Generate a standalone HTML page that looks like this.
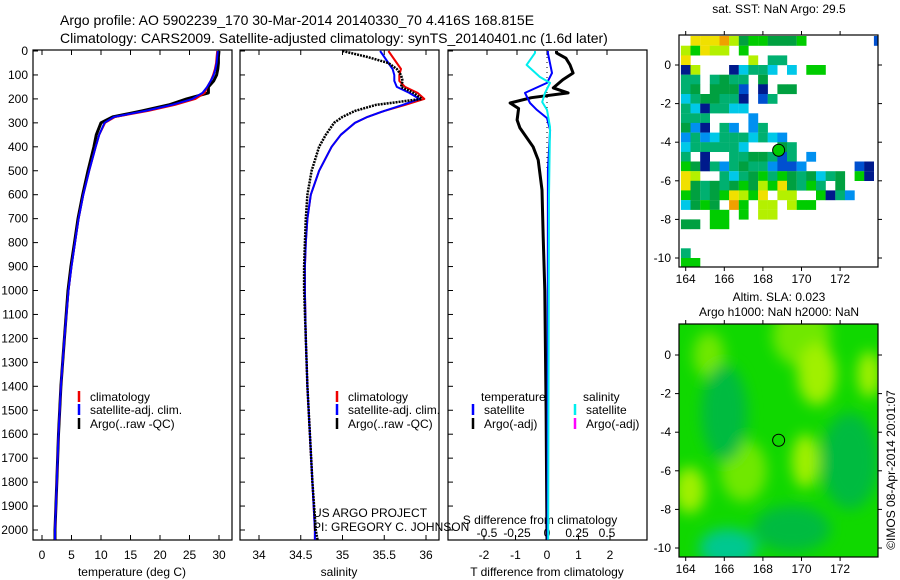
<!DOCTYPE html>
<html><head><meta charset="utf-8"><style>
body{margin:0;background:#fff;}
svg{display:block;font-family:"Liberation Sans",sans-serif;}
text{fill:#000;}
</style></head><body>
<svg id="chart" width="900" height="580" viewBox="0 0 900 580">
<defs>
<filter id="blur" x="-50%" y="-50%" width="200%" height="200%"><feGaussianBlur stdDeviation="7"/></filter>
<clipPath id="clipSla"><rect x="679" y="324" width="199" height="233"/></clipPath>
<clipPath id="clipSst"><rect x="679" y="35" width="199" height="232"/></clipPath>
</defs>
<text x="60" y="25" font-size="14">Argo profile: AO 5902239_170 30-Mar-2014 20140330_70 4.416S 168.815E</text>
<text x="60" y="43" font-size="14">Climatology: CARS2009. Satellite-adjusted climatology: synTS_20140401.nc (1.6d later)</text>
<g id="plots"></g>
<text x="779" y="13" font-size="12" text-anchor="middle">sat. SST: NaN Argo: 29.5</text>
<text x="779" y="301" font-size="12" text-anchor="middle">Altim. SLA: 0.023</text>
<text x="779" y="316" font-size="12" text-anchor="middle">Argo h1000: NaN h2000: NaN</text>
<text transform="translate(895,470) rotate(-90)" font-size="12" text-anchor="middle">©IMOS 08-Apr-2014 20:01:07</text>
</svg>
<script>
// ---- data ----
const depths = [0,25,50,75,100,125,150,175,200,225,250,275,300,350,400,500,600,700,800,900,1000,1200,1400,1600,1800,2000,2040];
const tempClim = [29.7,29.6,29.5,29.3,29.0,28.6,28.0,27.6,26.0,22.5,18.0,12.4,10.7,9.7,9.1,8.0,7.0,6.2,5.6,5.0,4.5,3.8,3.2,2.8,2.5,2.2,2.2];
const tempSat = [29.8,29.7,29.6,29.4,29.1,28.6,28.0,27.2,25.5,22.0,17.5,12.2,10.6,9.7,9.1,8.0,7.0,6.2,5.6,5.0,4.5,3.8,3.2,2.8,2.5,2.2,2.2];
const tempArgo = [30.0,29.9,29.9,29.8,29.6,29.1,28.2,28.2,24.5,21.5,17.0,12.0,10.0,9.2,8.8,7.8,6.9,6.1,5.5,4.9,4.4,3.8,3.2,2.8,2.5,2.2,2.2];
const salClim = [35.55,35.6,35.65,35.7,35.68,35.68,35.75,35.9,35.98,35.75,35.5,35.3,35.15,34.98,34.87,34.72,34.62,34.58,34.56,34.55,34.55,34.56,34.58,34.61,34.64,34.67,34.67];
const salSat = [35.45,35.5,35.55,35.6,35.62,35.62,35.65,35.8,35.92,35.72,35.5,35.3,35.15,34.98,34.87,34.72,34.62,34.58,34.56,34.55,34.55,34.56,34.58,34.61,34.64,34.67,34.67];
const salArgo = [35.0,35.3,35.55,35.65,35.7,35.72,35.7,35.85,35.95,35.4,35.15,35.0,34.9,34.8,34.72,34.63,34.58,34.56,34.55,34.54,34.54,34.56,34.58,34.61,34.64,34.68,34.7];
const diffDepthArgoT = [0,8,30,58,92,120,154,175,195,217,240,288,321,400,455,580,777,1000,1500,2040];
const diffArgoT = [0.3,0.3,0.6,0.73,0.83,0.5,0.2,0.67,-0.5,-1.17,-0.9,-0.95,-0.86,-0.44,-0.28,-0.16,-0.12,-0.07,-0.03,0];
const diffDepthSatT = [0,8,92,133,175,217,246,280,330,500,2040];
const diffSatT = [0.03,0.03,0.16,0,-0.7,-0.54,-0.32,0,0.1,0.03,0.02];
const diffDepthSatS = [0,8,58,108,133,175,213,246,317,600,2040];
const diffSatS = [-0.1,-0.1,-0.17,-0.06,0.025,-0.017,-0.04,0,0.025,0.017,0.01];
const depthTicks = [0,100,200,300,400,500,600,700,800,900,1000,1100,1200,1300,1400,1500,1600,1700,1800,1900,2000];
const tempTicks = [0,5,10,15,20,25,30];
const salTicks = [34,34.5,35,35.5,36];
const salTickLabels = ['34','34.5','35','35.5','36'];
const tdTicks = [-2,-1,0,1,2];
const sdTicks = [-0.5,-0.25,0,0.25,0.5];
const sdTickLabels = ['-0.5','-0.25','0','0.25','0.5'];
const lonTicks = [164,166,168,170,172];
const latTicks = [0,-2,-4,-6,-8,-10];
const argoLon = 168.815, argoLat = -4.416;
const sstRows = [
".888975665556.......1",
"76877 6.............",
"8......7.44.........",
"07...03443 3.66.....",
"44.4544.5...........",
"45 5551 0.55........",
"3455440 14..........",
"4304433.............",
"444....2............",
"520.42.24...........",
"24234443432.........",
"3444443...54........",
"4.0..4455414 2.......",
"6504245442112.....10",
"87..4345646545345 60",
"854545657685464 5...",
"654568768 77..6042..",
"3565.96.77.766......",
"...66.6.77..........",
"55.66...............",
"....................",
"....................",
"4...................",
"66.................."];
const sstColors = ['#001a8c','#0050d0','#0090f0','#00c8e8','#00b070','#00a040','#00cc00','#b4f000','#f0e000','#f0a000'];
const slaLon = [165.2,170,170.8,173.5,164.2,167,170.2,166,172.5,166.2,169.5];
const slaLat = [0,1,-1,-1,-7,-6,-5.5,-3,-5.5,-10,-9];
const slaRx = [0.8,1.5,1.0,0.6,0.8,1.2,0.7,1.2,1.5,1.5,2];
const slaRy = [1.2,1.6,1.6,1.2,1.2,1.6,1.4,2.5,2.5,1,1.2];
const slaLevel = [1,1,2,2,2,1,2,-1,-1,-2,-1];
const slaColors = {'2':'#a0f000','1':'#70e800','-1':'#00bb40','-2':'#00c890'};

// ---- helpers ----
const NS = 'http://www.w3.org/2000/svg';
const root = document.getElementById('plots');
function mk(tag, attrs, parent){const e=document.createElementNS(NS,tag);for(const k in attrs)e.setAttribute(k,attrs[k]);(parent||root).appendChild(e);return e;}
const yD = d => 51 + 0.2395*d;
const panels = [
 {x0:33, name:'temperature-panel', fx: v => 42 + 5.9*v},
 {x0:240, name:'salinity-panel', fx: v => 259 + 83.5*(v-34)},
 {x0:448, name:'difference-panel', fx: v => 547 + 31.5*v, fs: v => 547 + 120*v}
];
const PW = 199, PY0 = 50, PY1 = 540;

function line(xs, ds, fx, color, w, dash, name){
  let d='';
  for(let i=0;i<xs.length;i++){d += (i?'L':'M') + fx(xs[i]).toFixed(1) + ',' + yD(ds[i]).toFixed(1);}
  const p = mk('path',{d:d,fill:'none',stroke:color,'stroke-width':w,'stroke-linejoin':'round'});
  if(dash) p.setAttribute('stroke-dasharray',dash);
  
  
  return p;
}

panels.forEach((P,pi)=>{
  const g = mk('g',{});
  
  
  mk('rect',{x:P.x0,y:PY0,width:PW,height:PY1-PY0,fill:'#fff',stroke:'#000','stroke-width':1.2},g);
  depthTicks.forEach(d=>{
    mk('line',{x1:P.x0,x2:P.x0+5,y1:yD(d),y2:yD(d),stroke:'#000'},g);
    if(pi===0){
      const t = mk('text',{x:28,y:yD(d)+4,'font-size':12,'text-anchor':'end'},g);
      t.textContent = d;
      
      
    }
  });
});

tempTicks.forEach(v=>{
  const x = panels[0].fx(v);
  mk('line',{x1:x,x2:x,y1:PY1,y2:PY1-5,stroke:'#000'});
  mk('line',{x1:x,x2:x,y1:PY0,y2:PY0+5,stroke:'#000'});
  const t = mk('text',{x:x,y:559,'font-size':12,'text-anchor':'middle'}); t.textContent=v;
  
  
});
salTicks.forEach((v,i)=>{
  const x = panels[1].fx(v);
  mk('line',{x1:x,x2:x,y1:PY1,y2:PY1-5,stroke:'#000'});
  mk('line',{x1:x,x2:x,y1:PY0,y2:PY0+5,stroke:'#000'});
  const t = mk('text',{x:x,y:559,'font-size':12,'text-anchor':'middle'}); t.textContent=salTickLabels[i];
  
  
});
tdTicks.forEach(v=>{
  const x = panels[2].fx(v);
  mk('line',{x1:x,x2:x,y1:PY1,y2:PY1-5,stroke:'#000'});
  const t = mk('text',{x:x,y:559,'font-size':12,'text-anchor':'middle'}); t.textContent=v;
  
  
});
sdTicks.forEach((v,i)=>{
  const x = panels[2].fs(v);
  mk('line',{x1:x,x2:x,y1:PY0,y2:PY0+5,stroke:'#000'});
  const t = mk('text',{x:x,y:537,'font-size':12,'text-anchor':'middle'}); t.textContent=sdTickLabels[i];
  
  
});
[['temperature (deg C)',132,'temperature-axis-title'],['salinity',339,'salinity-axis-title'],['T difference from climatology',547,'t-diff-axis-title']].forEach(a=>{
  const t = mk('text',{x:a[1],y:576,'font-size':12,'text-anchor':'middle'}); t.textContent=a[0];
  
  
});
const sdt = mk('text',{x:540,y:524,'font-size':12,'text-anchor':'middle'}); sdt.textContent='S difference from climatology';



line(tempArgo, depths, panels[0].fx, '#000', 3, '', 'temp-argo-line');
line(tempClim, depths, panels[0].fx, '#e00', 2, '', 'temp-climatology-line');
line(tempSat, depths, panels[0].fx, '#00f', 2, '', 'temp-satellite-line');
line(salClim, depths, panels[1].fx, '#e00', 2, '', 'sal-climatology-line');
line(salSat, depths, panels[1].fx, '#00f', 2, '', 'sal-satellite-line');
line(salArgo, depths, panels[1].fx, '#000', 2.5, '2,1', 'sal-argo-line');
const zl = mk('line',{x1:547,x2:547,y1:52,y2:170,stroke:'#000','stroke-dasharray':'1,4'});


line(diffArgoT, diffDepthArgoT, panels[2].fx, '#000', 3, '', 't-diff-argo-line');
line(diffSatT, diffDepthSatT, panels[2].fx, '#00f', 2, '', 't-diff-satellite-line');
line(diffSatS, diffDepthSatS, panels[2].fs, '#0ee', 2, '', 's-diff-satellite-line');

function legend(x, y, color, label, name){
  const g = mk('g',{});
  
  
  mk('line',{x1:x,x2:x,y1:y-8,y2:y+3,stroke:color,'stroke-width':2.5},g);
  const t = mk('text',{x:x+11,y:y+2,'font-size':12},g); t.textContent=label;
}
[[79,'temp'],[337,'sal']].forEach(l=>{
  legend(l[0],399,'#e00','climatology',l[1]+'-legend-climatology');
  legend(l[0],412,'#00f','satellite-adj. clim.',l[1]+'-legend-satellite');
  legend(l[0],426,'#000','Argo(..raw -QC)',l[1]+'-legend-argo');
});
let lt = mk('text',{x:481,y:401,'font-size':12}); lt.textContent='temperature';
 
lt = mk('text',{x:583,y:401,'font-size':12}); lt.textContent='salinity';
 
legend(473,412,'#00f','satellite','diff-legend-t-satellite');
legend(473,426,'#000','Argo(-adj)','diff-legend-t-argo');
legend(575,412,'#0ee','satellite','diff-legend-s-satellite');
legend(575,426,'#f0f','Argo(-adj)','diff-legend-s-argo');
lt = mk('text',{x:313,y:517,'font-size':12}); lt.textContent='US ARGO PROJECT';
 
lt = mk('text',{x:313,y:531,'font-size':12}); lt.textContent='PI: GREGORY C. JOHNSON';
 

const lonX = lon => 685.7 + 19.3*(lon-164);
const sstY = lat => 65 + 19.3*(-lat);
const slaY = lat => 355 + 19.3*(-lat);

const sstG = mk('g',{'clip-path':'url(#clipSst)'});


mk('rect',{x:679,y:35,width:199,height:232,fill:'#fff'},sstG);
sstRows.forEach((row,r)=>{
  for(let c=0;c<row.length;c++){
    const ch=row[c]; if(ch<'0'||ch>'9') continue;
    const lon=163.75+0.5*c, lat=1.5-0.5*r;
    const cell = mk('rect',{x:lonX(lon).toFixed(1),y:sstY(lat).toFixed(1),width:9.8,height:9.8,fill:sstColors[+ch]},sstG);
    
    
  }
});
const slaG = mk('g',{'clip-path':'url(#clipSla)'});


mk('rect',{x:679,y:324,width:199,height:233,fill:'#10d800'},slaG);
const blobG = mk('g',{filter:'url(#blur)'},slaG);
slaLon.forEach((lon,i)=>{
  const b = mk('ellipse',{cx:lonX(lon),cy:slaY(slaLat[i]),rx:slaRx[i]*19.3,ry:slaRy[i]*19.3,fill:slaColors[String(slaLevel[i])]},blobG);
  
  
});

[[35,267,sstY,'sst'],[324,557,slaY,'sla']].forEach(M=>{
  const g = mk('g',{});
  
  
  mk('rect',{x:679,y:M[0],width:199,height:M[1]-M[0],fill:'none',stroke:'#000','stroke-width':1.2},g);
  lonTicks.forEach(v=>{
    const x=lonX(v);
    mk('line',{x1:x,x2:x,y1:M[1],y2:M[1]+4,stroke:'#000'},g);
    mk('line',{x1:x,x2:x,y1:M[0],y2:M[0]-4,stroke:'#000'},g);
    const t=mk('text',{x:x,y:M[1]+16,'font-size':12,'text-anchor':'middle'},g); t.textContent=v;
  });
  latTicks.forEach(v=>{
    const y=M[2](v);
    mk('line',{x1:679,x2:675,y1:y,y2:y,stroke:'#000'},g);
    mk('line',{x1:878,x2:882,y1:y,y2:y,stroke:'#000'},g);
    const t=mk('text',{x:671,y:y+4,'font-size':12,'text-anchor':'end'},g); t.textContent=v;
  });
});
const d1 = mk('circle',{cx:lonX(argoLon),cy:sstY(argoLat),r:6,fill:'#00cc00',stroke:'#000','stroke-width':1});


const d2 = mk('circle',{cx:lonX(argoLon),cy:slaY(argoLat),r:6,fill:'none',stroke:'#000','stroke-width':1});


</script>
</body></html>
